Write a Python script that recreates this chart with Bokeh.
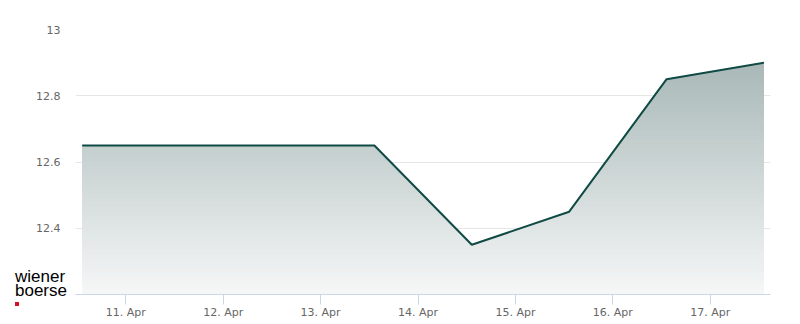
import numpy as np
import pandas as pd
from bokeh.plotting import figure
from bokeh.layouts import column
from bokeh.models import (Range1d, FixedTicker, DatetimeTickFormatter,
                          NumeralTickFormatter, Div)
from bokeh.embed import file_html
from bokeh.resources import INLINE

# ---- data ----
dates = ["2026-04-10 13:15", "2026-04-13 13:15", "2026-04-14 13:15",
         "2026-04-15 13:15", "2026-04-16 13:15", "2026-04-17 13:15"]
prices = [12.65, 12.65, 12.35, 12.45, 12.85, 12.90]
x_tick_dates = ["2026-04-11", "2026-04-12", "2026-04-13", "2026-04-14",
                "2026-04-15", "2026-04-16", "2026-04-17"]
y_ticks = [12.4, 12.6, 12.8, 13.0]
y_min, y_max = 12.2, 13.0
x_start, x_end = "2026-04-10 11:36", "2026-04-17 14:51"
logo_lines = ["wiener", "boerse"]

LINE = "#0f4a44"
GRAD_TOP = (157, 175, 174)
GRAD_BOTTOM = (246, 247, 247)


def ms(s):
    return pd.Timestamp(s).value / 1e6


xs = np.array([ms(d) for d in dates])
ys = np.array(prices, dtype=float)

p = figure(width=800, height=324, x_axis_type="datetime",
           output_backend="svg", toolbar_location=None,
           x_range=Range1d(ms(x_start), ms(x_end)),
           y_range=Range1d(y_min, y_max),
           min_border_left=75, min_border_right=30,
           min_border_top=29, min_border_bottom=30)
p.outline_line_color = None
p.background_fill_color = "white"
p.border_fill_color = "white"

# ---- gradient area fill (overlapping opaque layers, bottom to top) ----
n_layers = 60
levels = np.linspace(y_min, y_max, n_layers + 1)[:-1]
step = (y_max - y_min) / n_layers

bx = list(xs)
for lo in levels:
    for i in range(len(xs) - 1):
        a0, a1 = ys[i], ys[i + 1]
        if (a0 - lo) * (a1 - lo) < 0:
            bx.append(xs[i] + (lo - a0) / (a1 - a0) * (xs[i + 1] - xs[i]))
bx = np.unique(np.array(bx))
by = np.interp(bx, xs, ys)

for lo in levels:
    t = (lo + step / 2 - y_min) / (y_max - y_min)
    c = tuple(int(round(b + (tp - b) * t)) for tp, b in zip(GRAD_TOP, GRAD_BOTTOM))
    col = "#%02x%02x%02x" % c
    p.varea(x=bx, y1=np.full_like(bx, lo), y2=np.maximum(by, lo),
            fill_color=col, fill_alpha=1.0)

p.line(xs, ys, line_color=LINE, line_width=2)

# ---- axes ----
p.xaxis.ticker = FixedTicker(ticks=[ms(d) for d in x_tick_dates])
fmt = "%d. %b"
p.xaxis.formatter = DatetimeTickFormatter(
    milliseconds=fmt, seconds=fmt, minsec=fmt, minutes=fmt, hourmin=fmt,
    hours=fmt, days=fmt, months=fmt, years=fmt)
p.xaxis.axis_line_color = "#ccd6eb"
p.xaxis.major_tick_line_color = "#ccd6eb"
p.xaxis.major_tick_out = 10
p.xaxis.major_tick_in = 0
p.xaxis.minor_tick_line_color = None
p.xaxis.major_label_standoff = 1
p.xgrid.visible = False

p.yaxis.ticker = FixedTicker(ticks=y_ticks)
p.yaxis.formatter = NumeralTickFormatter(format="0.[0]")
p.yaxis.axis_line_color = None
p.yaxis.major_tick_line_color = None
p.yaxis.minor_tick_line_color = None
p.yaxis.major_tick_out = 0
p.yaxis.major_tick_in = 0
p.yaxis.major_label_standoff = 15
p.ygrid.ticker = FixedTicker(ticks=y_ticks)
p.ygrid.grid_line_color = "#e6e6e6"

for ax in (p.xaxis, p.yaxis):
    ax.major_label_text_font = "DejaVu Sans"
    ax.major_label_text_font_size = "11px"
    ax.major_label_text_color = "#666666"

# ---- logo: an HTML overlay in the lower-left corner ----
logo_html = (
    "<div style='font-family:\"Liberation Sans\",Arial,sans-serif;"
    "font-size:17px;line-height:14px;color:#000;margin:0;padding:0;"
    "white-space:nowrap'>" + "<br>".join(logo_lines) + "</div>"
    "<div style='width:4px;height:4px;background:#d50e26;margin-top:4px'></div>"
)
logo = Div(text=logo_html, width=60, height=40,
           styles={"position": "absolute", "left": "15px", "top": "270px",
                   "margin": "0", "padding": "0", "z-index": "10"})

layout = column(p, logo, spacing=0)

open("out.html", "w").write(file_html(layout, INLINE))
